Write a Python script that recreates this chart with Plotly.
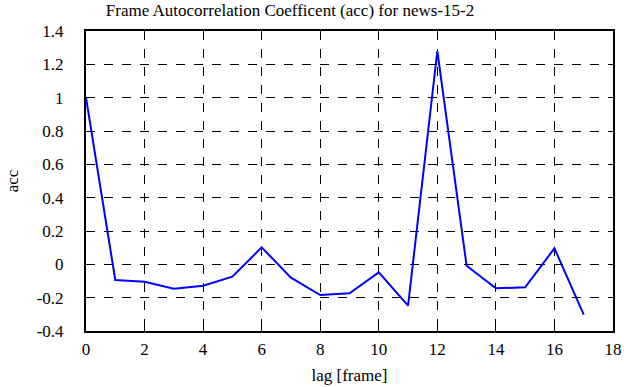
import plotly.graph_objects as go

lags = list(range(18))
acc = [1.0, -0.094, -0.104, -0.146, -0.128, -0.074, 0.102, -0.08, -0.184, -0.174,
       -0.048, -0.248, 1.28, -0.008, -0.144, -0.138, 0.096, -0.302]

x_ticks = list(range(0, 19, 2))
y_ticks = [-0.4, -0.2, 0, 0.2, 0.4, 0.6, 0.8, 1, 1.2, 1.4]
y_tick_text = ["-0.4", "-0.2", "0", "0.2", "0.4", "0.6", "0.8", "1", "1.2", "1.4"]

FAMILY = "Liberation Serif"
SIZE = 17
font = dict(family=FAMILY, size=SIZE, color="black")

fig = go.Figure()
fig.add_trace(go.Scatter(x=lags, y=acc, mode="lines",
                         line=dict(color="#0000ff", width=2), showlegend=False))

axis_common = dict(showline=True, linecolor="black", linewidth=2, mirror="ticks",
                   ticks="inside", ticklen=5, tickwidth=1, tickcolor="black",
                   showgrid=True, gridcolor="black", gridwidth=1, griddash="dash",
                   zeroline=False, automargin=False,
                   tickfont=dict(family=FAMILY, size=SIZE, color="black"))

fig.update_layout(
    width=624, height=387,
    margin=dict(l=86, r=11, t=31, b=56, autoexpand=False),
    paper_bgcolor="white", plot_bgcolor="white",
    font=font,
    title=dict(text="Frame Autocorrelation Coefficent (acc) for news-15-2",
               x=290/624, xanchor="center", xref="container",
               y=1 - 10/387, yanchor="middle", yref="container",
               font=dict(family=FAMILY, size=SIZE, color="black")),
    xaxis=dict(range=[0, 18], tickvals=x_ticks, ticklabelstandoff=2,
               title=dict(text="lag [frame]", standoff=11,
                          font=dict(family=FAMILY, size=SIZE, color="black")),
               **axis_common),
    yaxis=dict(range=[-0.4, 1.4], tickvals=y_ticks, ticktext=y_tick_text,
               ticklabelstandoff=17,
               title=dict(text="acc", standoff=14,
                          font=dict(family=FAMILY, size=SIZE, color="black")),
               **axis_common),
)

fig.write_html("out.html", config={"displayModeBar": False},
               post_script="document.body.style.margin='0';document.body.style.padding='0';")
